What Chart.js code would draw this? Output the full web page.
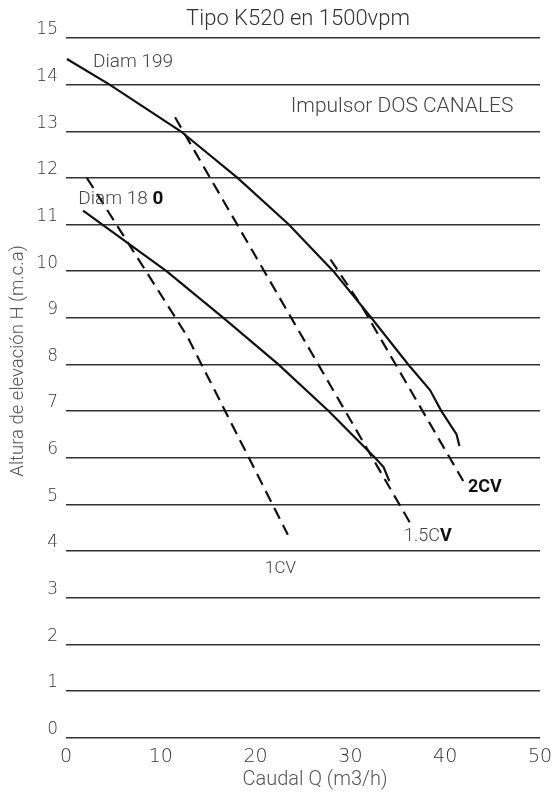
<!DOCTYPE html>
<html>
<head>
<meta charset="utf-8">
<script src="https://cdn.jsdelivr.net/npm/chart.js@4"></script>
<style>
  html, body { margin: 0; padding: 0; background: #fff; }
</style>
</head>
<body>
<canvas id="chart" width="552" height="796"></canvas>
<script>
// curve data: Q (m3/h) against H (m.c.a)
const diam199Q = [0.1, 4.6, 12.1, 18.1, 23.5, 28.2, 32.2, 36.1, 38.4, 39.6, 41.2, 41.5];
const diam199H = [14.55, 14.0, 13.0, 12.0, 11.0, 10.0, 9.0, 8.0, 7.45, 7.0, 6.5, 6.25];

const diam180Q = [1.8, 10.6, 16.6, 22.4, 27.7, 32.6, 33.5, 34.1];
const diam180H = [11.3, 10.0, 9.0, 8.0, 7.0, 6.0, 5.8, 5.5];

// power lines (dashed)
const cv1Q = [2.2, 12.8, 23.4];
const cv1H = [12.0, 8.6, 4.35];
const cv15Q = [11.5, 23.9, 36.3];
const cv15H = [13.3, 8.95, 4.6];
const cv2Q = [27.9, 31.2, 41.9];
const cv2H = [10.25, 9.25, 5.5];

const xTicks = [0, 10, 20, 30, 40, 50];
const yTicks = [0, 1, 2, 3, 4, 5, 6, 7, 8, 9, 10, 11, 12, 13, 14, 15];

// label anchors in data units
const notes = [
  { text: 'Diam 199', q: 2.85, h: 14.49, size: 19 },
  { text: 'Impulsor DOS CANALES', q: 23.7, h: 13.52, size: 21 },
  { text: 'Diam 18', bold: '0', q: 1.3, h: 11.55, size: 19 },
  { text: '', bold: '2CV', q: 42.4, h: 5.37, size: 18 },
  { text: '1.5C', bold: 'V', q: 35.65, h: 4.3, size: 18 },
  { text: '1CV', q: 21.0, h: 3.61, size: 17 }
];

function pts(xs, ys) {
  return xs.map((v, i) => ({ x: v, y: ys[i] }));
}

function curve(label, xs, ys, dashed) {
  return {
    label: label,
    data: pts(xs, ys),
    borderColor: '#111',
    borderWidth: 2.2,
    borderDash: dashed ? [12, 7] : [],
    pointRadius: 0,
    tension: 0,
    fill: false
  };
}

const FONT = "'Roboto', 'Liberation Sans', sans-serif";

const textPlugin = {
  id: 'texts',
  afterDraw(chart) {
    const ctx = chart.ctx;
    const x = chart.scales.x, y = chart.scales.y;
    ctx.save();
    ctx.textBaseline = 'middle';

    // title
    ctx.fillStyle = '#333';
    ctx.font = '300 22px ' + FONT;
    ctx.textAlign = 'center';
    ctx.fillText('Tipo K520 en 1500vpm', 298, 19);

    // axis titles
    ctx.fillStyle = '#555';
    ctx.font = '300 20px ' + FONT;
    ctx.fillText('Caudal Q (m3/h)', 315, 780);
    ctx.save();
    ctx.translate(18, 361);
    ctx.rotate(-Math.PI / 2);
    ctx.font = '300 18.5px ' + FONT;
    ctx.fillText('Altura de elevación H (m.c.a)', 0, 0);
    ctx.restore();

    // curve notes
    ctx.textAlign = 'left';
    notes.forEach(n => {
      let px = x.getPixelForValue(n.q);
      const py = y.getPixelForValue(n.h);
      if (n.text) {
        ctx.font = '300 ' + n.size + 'px ' + FONT;
        ctx.fillStyle = '#444';
        ctx.fillText(n.text, px, py);
        px += ctx.measureText(n.text + (n.text === 'Diam 18' ? ' ' : '')).width;
      }
      if (n.bold) {
        ctx.font = 'bold ' + n.size + 'px ' + FONT;
        ctx.fillStyle = '#111';
        ctx.fillText(n.bold, px, py);
      }
    });
    ctx.restore();
  }
};

new Chart(document.getElementById('chart'), {
  type: 'line',
  data: {
    datasets: [
      curve('Diam 199', diam199Q, diam199H, false),
      curve('Diam 180', diam180Q, diam180H, false),
      curve('1CV', cv1Q, cv1H, true),
      curve('1.5CV', cv15Q, cv15H, true),
      curve('2CV', cv2Q, cv2H, true)
    ]
  },
  options: {
    responsive: false,
    animation: false,
    layout: { padding: { top: 38, right: 12, left: 0, bottom: 0 } },
    plugins: {
      legend: { display: false },
      tooltip: { enabled: false }
    },
    scales: {
      x: {
        type: 'linear',
        min: 0,
        max: 50,
        afterBuildTicks(scale) {
          scale.ticks = xTicks.map(v => ({ value: v }));
        },
        afterFit(scale) {
          scale.height = 58.5;
          scale.paddingLeft = 0;
          scale.paddingRight = 0;
        },
        grid: { display: false },
        border: { display: false },
        ticks: {
          color: '#333',
          padding: 0,
          maxRotation: 0,
          font: { family: "'DejaVu Sans'", weight: 200, size: 19 }
        }
      },
      y: {
        type: 'linear',
        min: 0,
        max: 15,
        afterBuildTicks(scale) {
          scale.ticks = yTicks.map(v => ({ value: v }));
        },
        afterFit(scale) {
          scale.width = 66;
          scale.paddingTop = 0;
          scale.paddingBottom = 0;
        },
        grid: { color: '#333', lineWidth: 1.4, drawTicks: false },
        border: { display: false },
        ticks: {
          color: '#333',
          padding: 8,
          labelOffset: -8,
          font: { family: "'DejaVu Sans'", weight: 200, size: 17 }
        }
      }
    }
  },
  plugins: [textPlugin]
});
</script>
</body>
</html>
